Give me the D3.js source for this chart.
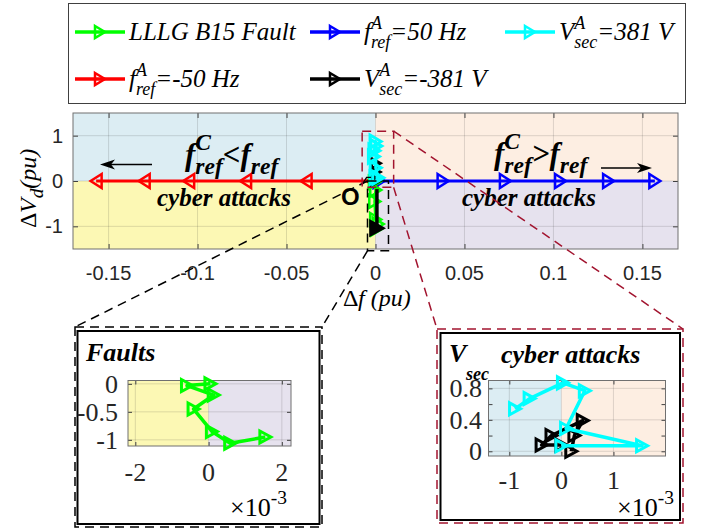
<!DOCTYPE html>
<html>
<head>
<meta charset="utf-8">
<script src="https://cdn.jsdelivr.net/npm/d3@7"></script>
<style>
body { margin: 0; background: #fff; }
svg { display: block; }
</style>
</head>
<body>
<script>
// ---- data ----
// main view: frequency reference attacks, x = delta f (pu), y = delta Vd (pu)
var negFreqX = [-0.002, -0.039, -0.073, -0.105, -0.130, -0.157];
var negFreqY = [0, 0, 0, 0, 0, 0];
var posFreqX = [0.002, 0.038, 0.073, 0.104, 0.131, 0.157];
var posFreqY = [0, 0, 0, 0, 0, 0];

// fault and Vsec traces, x given in 1e-3 pu
var faultX = [0.05, -0.59, 0.14, -0.41, 0.09, 0.59, 1.55];
var faultY = [0.0, -0.03, -0.2, -0.45, -0.85, -1.06, -0.95];
var vsecPosX = [0.0, 1.55, 0.09, 0.45, 0.03, -0.61, -0.89];
var vsecPosY = [0.07, 0.07, 0.29, 0.77, 0.87, 0.67, 0.54];
var vsecNegX = [0.19, 0.25, 0.41, -0.19, -0.38, 0.0];
var vsecNegY = [0.0, 0.2, 0.39, 0.2, 0.08, 0.08];
// black trace below the origin, only seen in the main view
var vsecNegMainX = [0.8, 0.8];
var vsecNegMainY = [-0.18, -1.04];

var mainXTicks = [-0.15, -0.1, -0.05, 0, 0.05, 0.1, 0.15];
var mainYTicks = [-1, 0, 1];
var faultXTicks = [-2, 0, 2];
var faultYTicks = [-1, -0.5, 0];
var vsecXTicks = [-1, 0, 1];
var vsecYTicks = [0, 0.4, 0.8];
var vsecYMinor = [0.2, 0.6];

var GREEN = "#00ff00", BLUE = "#0000ff", CYAN = "#00ffff", RED = "#ff0000", BLACK = "#000000";
var DARKRED = "#a2142f";
var C_BLUE = "#dcedf3", C_PEACH = "#fdeee2", C_YELLOW = "#fcf8b4", C_LAV = "#e6e2ee";
var SERIF = "'Liberation Serif', 'Times New Roman', serif";
var SANS = "'Liberation Sans', Arial, Helvetica, sans-serif";

var svg = d3.select("body").append("svg")
    .attr("width", 712)
    .attr("height", 529);

// triangle marker, dir 1 = pointing right, -1 = pointing left
function tri(dir, w, h) {
    return "M" + (-dir * w / 2) + "," + (-h / 2) + "L" + (dir * w / 2) + ",0L" + (-dir * w / 2) + "," + (h / 2) + "Z";
}

function drawSeries(g, xs, ys, sx, sy, color, o) {
    var pts = d3.zip(xs, ys);
    g.append("path")
        .datum(pts)
        .attr("d", d3.line().x(function(d) { return sx(d[0]); }).y(function(d) { return sy(d[1]); }))
        .attr("fill", "none")
        .attr("stroke", color)
        .attr("stroke-width", o.lw)
        .attr("stroke-linejoin", "round");
    if (o.noMarkers) return;
    g.selectAll(null)
        .data(pts)
        .enter()
        .append("path")
        .attr("transform", function(d) { return "translate(" + sx(d[0]) + "," + sy(d[1]) + ")"; })
        .attr("d", tri(o.dir || 1, o.w, o.h))
        .attr("fill", o.fill || "none")
        .attr("stroke", color)
        .attr("stroke-width", o.mlw)
        .attr("stroke-linejoin", "miter");
}

// text with stacked super/subscripts, laid out piece by piece
function rich(g, x0, y0, parts, st) {
    var grp = g.append("g");
    var cx = x0;
    var ss = st.size * (st.scr || 0.72);
    function put(txt, xx, yy, size) {
        var t = grp.append("text")
            .attr("x", xx).attr("y", yy)
            .attr("font-family", st.family || SERIF)
            .attr("font-size", size)
            .attr("font-style", st.italic ? "italic" : "normal")
            .attr("font-weight", st.bold ? "bold" : "normal")
            .attr("fill", "#000")
            .text(txt);
        return t.node().getComputedTextLength();
    }
    parts.forEach(function(p) {
        if (p.sup !== undefined || p.sub !== undefined) {
            var w = 0;
            if (p.sup) w = Math.max(w, put(p.sup, cx, y0 - st.size * (st.up || 0.42), ss));
            if (p.sub) w = Math.max(w, put(p.sub, cx, y0 + st.size * (st.down || 0.28), ss));
            cx += w;
        } else {
            cx += put(p.t, cx, y0, st.size);
        }
    });
    return grp;
}

function arrow(g, x1, y1, x2, y2) {
    var ang = Math.atan2(y2 - y1, x2 - x1);
    var L = 15, hw = 5, back = 4;
    g.append("line")
        .attr("x1", x1).attr("y1", y1)
        .attr("x2", x2 - Math.cos(ang) * (L - back)).attr("y2", y2 - Math.sin(ang) * (L - back))
        .attr("stroke", "#000").attr("stroke-width", 1.3);
    g.append("path")
        .attr("transform", "translate(" + x2 + "," + y2 + ") rotate(" + (ang * 180 / Math.PI) + ")")
        .attr("d", "M0,0L" + (-L) + "," + (-hw) + "L" + (-L + back) + ",0L" + (-L) + "," + hw + "Z")
        .attr("fill", "#000");
}

// axes frame with quadrant shading, grid and inside ticks
function frame(g, sx, sy, o) {
    var xd = sx.domain(), yd = sy.domain();
    o.shade.forEach(function(s) {
        g.append("rect")
            .attr("x", sx(s[0])).attr("y", sy(s[3]))
            .attr("width", sx(s[1]) - sx(s[0]))
            .attr("height", sy(s[2]) - sy(s[3]))
            .attr("fill", s[4]);
    });
    g.selectAll(null).data(o.xt).enter().append("line")
        .attr("x1", function(d) { return sx(d); }).attr("x2", function(d) { return sx(d); })
        .attr("y1", sy(yd[0])).attr("y2", sy(yd[1]))
        .attr("stroke", "#262626").attr("stroke-opacity", 0.15);
    g.selectAll(null).data(o.yt).enter().append("line")
        .attr("y1", function(d) { return sy(d); }).attr("y2", function(d) { return sy(d); })
        .attr("x1", sx(xd[0])).attr("x2", sx(xd[1]))
        .attr("stroke", "#262626").attr("stroke-opacity", 0.15);
    var tl = o.tick;
    var xb = d3.axisBottom(sx).tickValues(o.xt).tickSize(-tl).tickFormat("");
    var xtop = d3.axisTop(sx).tickValues(o.xt).tickSize(-tl).tickFormat("");
    var yl = d3.axisLeft(sy).tickValues(o.yt.concat(o.ym || [])).tickSize(-tl).tickFormat("");
    var yr = d3.axisRight(sy).tickValues(o.yt.concat(o.ym || [])).tickSize(-tl).tickFormat("");
    [[xb, "translate(0," + sy(yd[0]) + ")"], [xtop, "translate(0," + sy(yd[1]) + ")"],
     [yl, "translate(" + sx(xd[0]) + ",0)"], [yr, "translate(" + sx(xd[1]) + ",0)"]].forEach(function(a) {
        var ax = g.append("g").attr("transform", a[1]).call(a[0]);
        ax.select(".domain").remove();
        ax.selectAll("line").attr("stroke", "#404040");
    });
    g.append("rect")
        .attr("x", sx(xd[0])).attr("y", sy(yd[1]))
        .attr("width", sx(xd[1]) - sx(xd[0]))
        .attr("height", sy(yd[0]) - sy(yd[1]))
        .attr("fill", "none").attr("stroke", "#707070").attr("stroke-width", 1);
}

function tickLabels(g, sx, sy, o) {
    g.selectAll(null).data(o.xt).enter().append("text")
        .attr("x", function(d) { return sx(d); })
        .attr("y", o.xBase)
        .attr("text-anchor", "middle")
        .attr("font-family", o.family).attr("font-size", o.size).attr("fill", "#262626")
        .text(function(d) { return String(d); });
    g.selectAll(null).data(o.yt).enter().append("text")
        .attr("x", o.yRight)
        .attr("y", function(d) { return sy(d); })
        .attr("dy", "0.35em")
        .attr("text-anchor", "end")
        .attr("font-family", o.family).attr("font-size", o.size).attr("fill", "#262626")
        .text(function(d) { return String(d); });
}

// ---- legend ----
var leg = svg.append("g");
leg.append("rect").attr("x", 68.5).attr("y", 3.5).attr("width", 617).attr("height", 100)
    .attr("fill", "#fff").attr("stroke", "#404040").attr("stroke-width", 1);
var legItems = [
    {c: GREEN, x: 75, y: 32, parts: [{t: "LLLG B15 Fault"}]},
    {c: BLUE, x: 310, y: 32, parts: [{t: "f"}, {sup: "A", sub: "ref"}, {t: "=50 Hz"}]},
    {c: CYAN, x: 505, y: 32, parts: [{t: "V"}, {sup: "A", sub: "sec"}, {t: "=381 V"}]},
    {c: RED, x: 75, y: 79, parts: [{t: "f"}, {sup: "A", sub: "ref"}, {t: "=-50 Hz"}]},
    {c: BLACK, x: 310, y: 79, parts: [{t: "V"}, {sup: "A", sub: "sec"}, {t: "=-381 V"}]}
];
legItems.forEach(function(it) {
    var sx = function(v) { return it.x + v; };
    var sy = function(v) { return it.y + v; };
    drawSeries(leg, [0, 25, 50], [0, 0, 0], sx, sy, it.c, {lw: 3.5, noMarkers: true});
    drawSeries(leg, [25], [0], sx, sy, it.c, {lw: 3.5, w: 10, h: 12, mlw: 2.5});
    rich(leg, it.x + 54, it.y + 8, it.parts, {size: 25, italic: true, scr: 0.72, up: 0.46, down: 0.32});
});

// ---- main plot ----
var x = d3.scaleLinear().domain([-0.17, 0.17]).range([73, 678]);
var y = d3.scaleLinear().domain([-1.5, 1.5]).range([249, 113]);
var xm = function(v) { return x(v * 1e-3); };

var main = svg.append("g");
frame(main, x, y, {
    xt: mainXTicks, yt: mainYTicks, tick: 5,
    shade: [[-0.17, 0, 0, 1.5, C_BLUE], [0, 0.17, 0, 1.5, C_PEACH],
            [-0.17, 0, -1.5, 0, C_YELLOW], [0, 0.17, -1.5, 0, C_LAV]]
});
tickLabels(main, x, y, {xt: mainXTicks, yt: mainYTicks, xBase: 280, yRight: 63, family: SANS, size: 20});

drawSeries(main, negFreqX, negFreqY, x, y, RED, {lw: 3, dir: -1, w: 11, h: 14, mlw: 2.5});
drawSeries(main, posFreqX, posFreqY, x, y, BLUE, {lw: 3, dir: 1, w: 11, h: 14, mlw: 2.5});
drawSeries(main, faultX, faultY, xm, y, GREEN, {lw: 3, w: 11, h: 13, mlw: 2.5});
drawSeries(main, vsecNegMainX, vsecNegMainY, xm, y, BLACK, {lw: 3.5, noMarkers: true});
drawSeries(main, vsecNegMainX.slice(1), vsecNegMainY.slice(1), xm, y, BLACK, {lw: 3, w: 13, h: 14, mlw: 2.5, fill: BLACK});
drawSeries(main, vsecNegX, vsecNegY, xm, y, BLACK, {lw: 3, w: 9, h: 10, mlw: 2.5});
drawSeries(main, vsecPosX, vsecPosY, xm, y, CYAN, {lw: 3, w: 11, h: 13, mlw: 3});

// annotations in the main view
var ann = svg.append("g");
var bi = {size: 31, italic: true, bold: true, scr: 0.76, up: 0.5, down: 0.28};
rich(ann, 185, 165, [{t: "f"}, {sup: "C", sub: "ref"}, {t: "<"}, {t: "f"}, {sub: "ref"}], bi);
rich(ann, 494, 164, [{t: "f"}, {sup: "C", sub: "ref"}, {t: ">"}, {t: "f"}, {sub: "ref"}], bi);
ann.append("text").attr("x", 157).attr("y", 206)
    .attr("font-family", SERIF).attr("font-size", 25).attr("font-weight", "bold").attr("font-style", "italic")
    .text("cyber attacks");
ann.append("text").attr("x", 462).attr("y", 206)
    .attr("font-family", SERIF).attr("font-size", 25).attr("font-weight", "bold").attr("font-style", "italic")
    .text("cyber attacks");
arrow(ann, 152, 164.5, 100, 164.5);
arrow(ann, 601, 168, 652, 168);
ann.append("text").attr("x", 341).attr("y", 205)
    .attr("font-family", SANS).attr("font-size", 24).attr("font-weight", "bold")
    .text("O");
ann.append("path")
    .attr("d", d3.line()([[x(-0.0075), y(-0.08)], [x(-0.005), y(0.08)], [x(-0.0025), y(0.08)]]))
    .attr("fill", "none").attr("stroke", "#000").attr("stroke-width", 1.3);

// axis titles
rich(svg, 343, 306, [{t: "\u0394"}], {size: 24});
rich(svg, 358, 306, [{t: "f (pu)"}], {size: 24, italic: true});
var yl = svg.append("g").attr("transform", "translate(36,228) rotate(-90)");
rich(yl, 0, 0, [{t: "\u0394"}], {size: 24});
rich(yl, 15, 0, [{t: "V"}, {sub: "d"}, {t: " (pu)"}], {size: 24, italic: true, scr: 0.8, down: 0.3});

// zoom boxes and connectors
var zb = svg.append("g").attr("fill", "none").attr("stroke-width", 1.5).attr("stroke-dasharray", "9,6");
zb.append("rect")
    .attr("x", x(-0.0045)).attr("y", y(0))
    .attr("width", x(0.0073) - x(-0.0045)).attr("height", y(-1.54) - y(0))
    .attr("stroke", "#000");
zb.append("line").attr("x1", x(-0.0045)).attr("y1", y(0)).attr("x2", 75).attr("y2", 327).attr("stroke", "#000");
zb.append("line").attr("x1", x(-0.0045)).attr("y1", y(-1.54)).attr("x2", 322).attr("y2", 327).attr("stroke", "#000");
zb.append("rect")
    .attr("x", x(-0.0075)).attr("y", y(1.1))
    .attr("width", x(0.0102) - x(-0.0075)).attr("height", y(-0.14) - y(1.1))
    .attr("stroke", DARKRED);
zb.append("line").attr("x1", x(0.0102)).attr("y1", y(1.1)).attr("x2", 683).attr("y2", 329).attr("stroke", DARKRED);
zb.append("line").attr("x1", x(0.0102)).attr("y1", y(-0.14)).attr("x2", 437).attr("y2", 329).attr("stroke", DARKRED);

// ---- inset: faults ----
var f = svg.append("g");
f.append("rect").attr("x", 75).attr("y", 327).attr("width", 247).attr("height", 200)
    .attr("fill", "#fff").attr("stroke", "#000").attr("stroke-width", 1.5).attr("stroke-dasharray", "9,6");
f.append("rect").attr("x", 77.5).attr("y", 331).attr("width", 242).attr("height", 193)
    .attr("fill", "#fff").attr("stroke", "#000").attr("stroke-width", 2);
var fx = d3.scaleLinear().domain([-2.2, 2.25]).range([128, 291]);
var fy = d3.scaleLinear().domain([-1.11, 0.06]).range([446, 380.5]);
frame(f, fx, fy, {
    xt: faultXTicks, yt: faultYTicks, tick: 4,
    shade: [[-2.2, 0, -1.11, 0.06, C_YELLOW], [0, 2.25, -1.11, 0.06, C_LAV]]
});
tickLabels(f, fx, fy, {xt: faultXTicks, yt: faultYTicks, xBase: 481, yRight: 118, family: SERIF, size: 26});
drawSeries(f, faultX, faultY, fx, fy, GREEN, {lw: 3.5, w: 11, h: 12, mlw: 3});
f.append("text").attr("x", 86).attr("y", 361)
    .attr("font-family", SERIF).attr("font-size", 26).attr("font-weight", "bold").attr("font-style", "italic")
    .text("Faults");
rich(f, 230, 516, [{t: "\u00d710"}, {sup: "-3"}], {size: 26, scr: 0.75, up: 0.45});

// ---- inset: Vsec attacks ----
var v = svg.append("g");
v.append("rect").attr("x", 437).attr("y", 329).attr("width", 246).attr("height", 194)
    .attr("fill", "#fff").attr("stroke", DARKRED).attr("stroke-width", 1.5).attr("stroke-dasharray", "9,6");
v.append("rect").attr("x", 440.5).attr("y", 333).attr("width", 239.5).attr("height", 187)
    .attr("fill", "#fff").attr("stroke", "#000").attr("stroke-width", 2);
var vx = d3.scaleLinear().domain([-1.4, 2.0]).range([488.5, 665.5]);
var vy = d3.scaleLinear().domain([-0.06, 0.9]).range([456, 380.5]);
frame(v, vx, vy, {
    xt: vsecXTicks, yt: vsecYTicks, ym: vsecYMinor, tick: 4,
    shade: [[-1.4, 0, -0.06, 0.9, C_BLUE], [0, 2.0, -0.06, 0.9, C_PEACH]]
});
tickLabels(v, vx, vy, {xt: vsecXTicks, yt: vsecYTicks, xBase: 489, yRight: 482, family: SERIF, size: 26});
drawSeries(v, vsecNegX, vsecNegY, vx, vy, BLACK, {lw: 3.5, w: 11, h: 12, mlw: 3});
drawSeries(v, vsecPosX, vsecPosY, vx, vy, CYAN, {lw: 3.5, w: 11, h: 12, mlw: 3});
v.append("text").attr("x", 449).attr("y", 362)
    .attr("font-family", SERIF).attr("font-size", 26).attr("font-weight", "bold").attr("font-style", "italic")
    .text("V");
v.append("text").attr("x", 466).attr("y", 380)
    .attr("font-family", SERIF).attr("font-size", 18).attr("font-weight", "bold").attr("font-style", "italic")
    .text("sec");
v.append("text").attr("x", 501).attr("y", 363)
    .attr("font-family", SERIF).attr("font-size", 26).attr("font-weight", "bold").attr("font-style", "italic")
    .text("cyber attacks");
rich(v, 617, 516, [{t: "\u00d710"}, {sup: "-3"}], {size: 26, scr: 0.75, up: 0.45});
</script>
</body>
</html>
